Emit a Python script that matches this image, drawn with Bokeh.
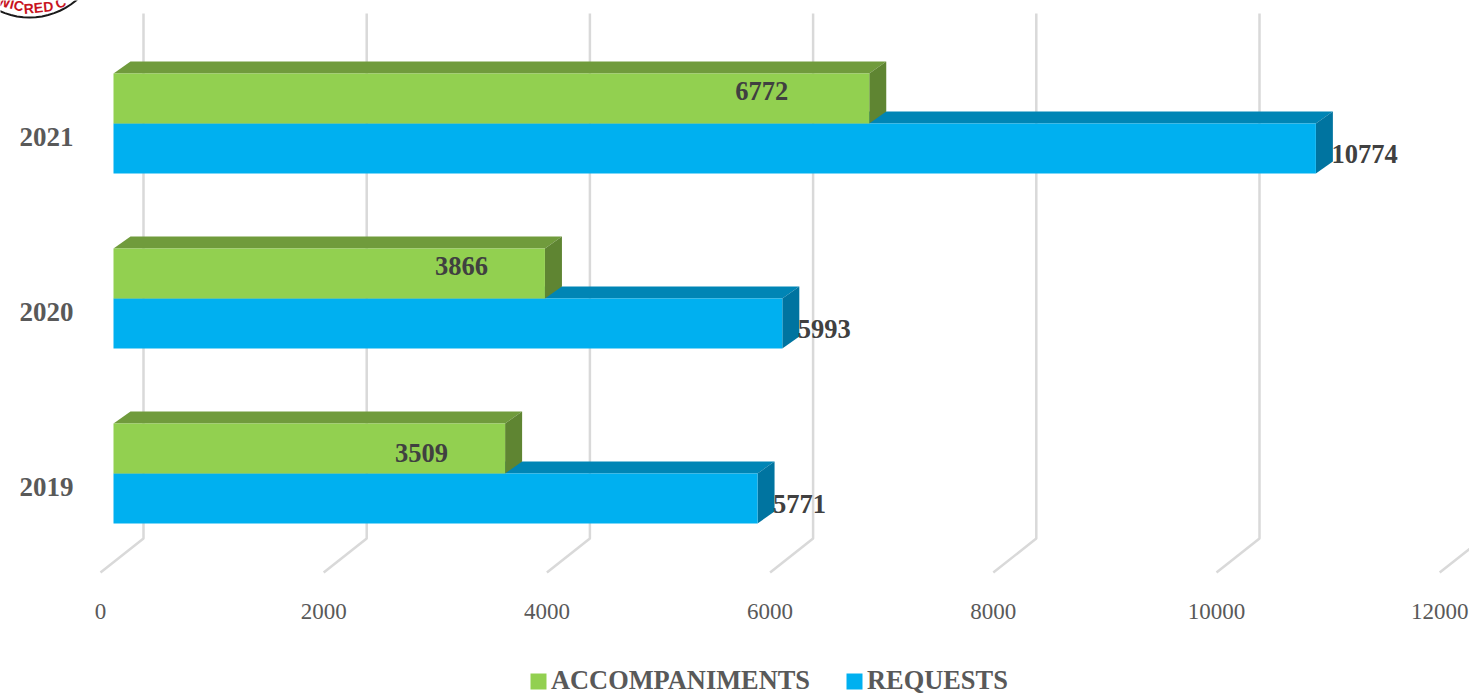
from bokeh.plotting import figure
from bokeh.models import Range1d, FixedTicker, Legend, LegendItem, ColumnDataSource
from bokeh.core.properties import value
from bokeh.embed import file_html
from bokeh.resources import INLINE
import math

years = ["2019", "2020", "2021"]
accompaniments = [3509, 3866, 6772]
requests = [5771, 5993, 10774]
x_ticks = [0, 2000, 4000, 6000, 8000, 10000, 12000]
series_names = ["ACCOMPANIMENTS", "REQUESTS"]

W, H = 1469, 696
FRAME_L, FRAME_B = 86, 572
PX_X = 223.2 / 2000      # px per value
PX_Y = 175.0             # px per category
X0_PX, Y0_PX = 100, 486.5  # where value 0 and category 0 sit

px = lambda n: n / PX_X
py = lambda n: n / PX_Y
dx = lambda sx: (sx - X0_PX) / PX_X
dy = lambda sy: (Y0_PX - sy) / PX_Y

BAR_X = px(13); BAR_H = py(50); BOUND = py(13.5)
DEPTH_X = px(17); DEPTH_Y = py(12)
GRID_X = px(43); GRID_Y = py(34)
GRID_TOP = dy(13)

p = figure(width=W, height=H, output_backend="svg", toolbar_location=None,
           x_range=Range1d(dx(0), dx(W)), y_range=Range1d(dy(H), dy(0)),
           min_border=0, outline_line_color=None,
           background_fill_color="white", border_fill_color="white")
p.grid.visible = False

GRID = "#d9d9d9"
y_floor = dy(FRAME_B)
p.multi_line(xs=[[t, t + GRID_X, t + GRID_X] for t in x_ticks],
             ys=[[y_floor, y_floor + GRID_Y, GRID_TOP] for t in x_ticks],
             line_color=GRID, line_width=2.5)

def bars(vals, lows, front, top, side):
    lefts = [BAR_X] * len(vals)
    rights = [v + BAR_X for v in vals]
    highs = [b + BAR_H for b in lows]
    p.patches(xs=[[l, l + DEPTH_X, r + DEPTH_X, r] for l, r in zip(lefts, rights)],
              ys=[[h, h + DEPTH_Y, h + DEPTH_Y, h] for h in highs],
              fill_color=top, line_color=None)
    p.patches(xs=[[r, r + DEPTH_X, r + DEPTH_X, r] for r in rights],
              ys=[[l, l + DEPTH_Y, h + DEPTH_Y, h] for l, h in zip(lows, highs)],
              fill_color=side, line_color=None)
    return p.quad(left=lefts, right=rights, bottom=lows, top=highs,
                  fill_color=front, line_color=None)

idx = list(range(len(years)))
r_req = bars(requests, [i + BOUND - BAR_H for i in idx], "#00B0F0", "#0085B5", "#0074A0")
r_acc = bars(accompaniments, [i + BOUND for i in idx], "#92D050", "#709B3C", "#5F8532")

# data labels
TXT = "#404040"
acc_gap = [px(57), px(57), px(81)]
acc_src = ColumnDataSource(dict(
    x=[v + BAR_X - g for v, g in zip(accompaniments, acc_gap)],
    y=[i + BOUND + BAR_H / 2 + py(v) for i, v in zip(idx, [-4, 8, 8])],
    t=[str(v) for v in accompaniments]))
p.text("x", "y", "t", source=acc_src, text_align="right", text_baseline="middle",
       text_color=TXT, text_font=value("Liberation Serif"), text_font_style="bold", text_font_size="26.5px")
req_src = ColumnDataSource(dict(
    x=[v + BAR_X + px(15.5) for v in requests],
    y=[i + BOUND - BAR_H / 2 - py(5) for i in idx],
    t=[str(v) for v in requests]))
p.text("x", "y", "t", source=req_src, text_align="left", text_baseline="middle",
       text_color=TXT, text_font=value("Liberation Serif"), text_font_style="bold", text_font_size="26.5px")

# axes, sitting inside the full-canvas frame
xa = p.xaxis[0]
xa.fixed_location = dy(FRAME_B)
xa.ticker = FixedTicker(ticks=x_ticks)
xa.major_tick_line_color = None; xa.minor_tick_line_color = None; xa.axis_line_color = None
xa.major_label_text_font = "Liberation Serif"; xa.major_label_text_font_size = "23px"
xa.major_label_text_color = "#595959"; xa.major_label_standoff = 25

ya = p.yaxis[0]
ya.fixed_location = dx(FRAME_L)
ya.ticker = FixedTicker(ticks=idx)
ya.major_label_overrides = {i: y for i, y in zip(idx, years)}
ya.major_tick_line_color = None; ya.minor_tick_line_color = None; ya.axis_line_color = None
ya.major_label_orientation = "horizontal"
ya.major_label_text_font = "Liberation Serif"; ya.major_label_text_font_style = "bold"
ya.major_label_text_font_size = "27px"; ya.major_label_text_color = "#595959"
ya.major_label_standoff = 7

# legend
leg = Legend(items=[LegendItem(label=series_names[0], renderers=[r_acc]),
                    LegendItem(label=series_names[1], renderers=[r_req])],
             orientation="horizontal", location=(528, 0),
             glyph_width=20, glyph_height=20, label_standoff=3, spacing=34,
             padding=0, margin=0, border_line_color=None, background_fill_alpha=0,
             label_text_font="Liberation Serif", label_text_font_style="bold",
             label_text_font_size="26.4px", label_text_color="#595959")
p.add_layout(leg)

# logo fragment in the top-left corner
cx, cy, R = 29, -55, 72
arc = [(cx + R * math.cos(math.radians(a)), cy + R * math.sin(math.radians(a))) for a in range(30, 155, 5)]
p.line([dx(a) for a, _ in arc], [dy(b) for _, b in arc], line_color="#1a1a1a", line_width=2)
p.text(x=[dx(10), dx(38), dx(60)], y=[dy(3), dy(7), dy(2)], text=["WIC", "RED", "C"],
       angle=[-0.25, 0.1, 0.35], text_align="center", text_baseline="middle", text_color="#c8141e",
       text_font=value("Liberation Sans"), text_font_style="bold", text_font_size="14px")

open("out.html", "w").write(file_html(p, INLINE))
